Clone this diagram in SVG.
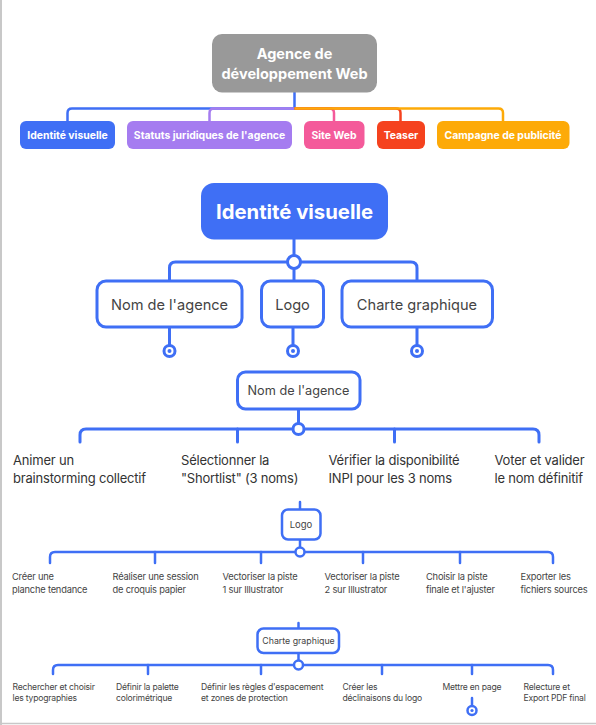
<svg xmlns="http://www.w3.org/2000/svg" width="596" height="725" viewBox="0 0 596 725">
<style>
.t{font-family:Inter,"Liberation Sans",sans-serif}
.b{font-weight:700;fill:#fff;text-anchor:middle}
.c{fill:none;stroke:#3f6ff5;stroke-linecap:round;stroke-linejoin:round}
.w{fill:#fff;stroke:#3f6ff5}
.s3{font-size:13px;letter-spacing:-0.2px;fill:#333}
.s4{font-size:9.3px;letter-spacing:-0.2px;fill:#444}
.s5{font-size:8.6px;letter-spacing:-0.2px;fill:#444}
</style>
<rect width="596" height="725" fill="#fff"/>
<line x1="1" y1="0" x2="1" y2="725" stroke="#c8c8c8" stroke-width="2"/>
<line x1="0" y1="723.5" x2="596" y2="723.5" stroke="#c8c8c8" stroke-width="1.5"/>

<g id="connectors">
  <g fill="none" stroke-width="2.5" stroke-linejoin="round">
    <path d="M294.5,92 V108.5 H72 Q67.5,108.5 67.5,113 V121" stroke="#3f6ff5"/>
    <path d="M294.5,108.5 H214 Q209.5,108.5 209.5,113 V121" stroke="#a57cf0"/>
    <path d="M294.5,108.5 H329.5 Q334,108.5 334,113 V121" stroke="#f45a9a"/>
    <path d="M294.5,108.5 H396 Q400.5,108.5 400.5,113 V121" stroke="#f5421e"/>
    <path d="M294.5,108.5 H498.5 Q503,108.5 503,113 V121" stroke="#fdaa08"/>
  </g>
  <g class="c" stroke-width="3">
    <path d="M294,239 V262"/>
    <path d="M169.5,281 V268 Q169.5,262 175.5,262 H411 Q417,262 417,268 V281"/>
    <path d="M294,262 V281"/>
    <path d="M169.5,327 V346"/>
    <path d="M293,327 V346"/>
    <path d="M417,327 V346"/>
    <path d="M298.5,409 V429"/>
    <path d="M80,442 V435 Q80,429 86,429 H533 Q539,429 539,435 V442"/>
    <path d="M237.5,442 V429"/>
    <path d="M394.5,442 V429"/>
  </g>
  <g class="c" stroke-width="2.5">
    <path d="M300,502 V509"/>
    <path d="M300,539 V552"/>
    <path d="M50,563 V557 Q50,552 55,552 H548 Q553,552 553,557 V563"/>
    <path d="M155,563 V552"/>
    <path d="M261,563 V552"/>
    <path d="M363,563 V552"/>
    <path d="M460,563 V552"/>
    <path d="M298.5,623 V628"/>
    <path d="M298.5,653 V665"/>
    <path d="M53,674 V670 Q53,665 58,665 H548 Q553,665 553,670 V674"/>
    <path d="M148,674 V665"/>
    <path d="M261,674 V665"/>
    <path d="M382,674 V665"/>
    <path d="M472,674 V665"/>
    <path d="M472,698 V706"/>
  </g>
  <g class="w">
    <circle cx="294" cy="262" r="6.5" stroke-width="3"/>
    <circle cx="169.5" cy="351" r="5.5" stroke-width="3"/>
    <circle cx="293" cy="351" r="5.5" stroke-width="3"/>
    <circle cx="417" cy="351" r="5.5" stroke-width="3"/>
    <circle cx="298.5" cy="429" r="5.5" stroke-width="3"/>
    <circle cx="300" cy="552" r="4.5" stroke-width="2.5"/>
    <circle cx="298.5" cy="665" r="4.5" stroke-width="2.5"/>
    <circle cx="472" cy="710.5" r="4.5" stroke-width="2.5"/>
  </g>
  <g fill="#3f6ff5">
    <circle cx="169.5" cy="351" r="2"/>
    <circle cx="293" cy="351" r="2"/>
    <circle cx="417" cy="351" r="2"/>
    <circle cx="472" cy="710.5" r="1.6"/>
  </g>
</g>

<g id="root">
  <rect x="212" y="34" width="165" height="58.5" rx="10" fill="#999"/>
  <text class="t b" x="294.5" y="59" font-size="14.5">Agence de</text>
  <text class="t b" x="294.5" y="79" font-size="14.5">développement Web</text>
</g>
<g id="cat-identite">
  <rect x="20" y="121" width="95" height="28" rx="6" fill="#3f6ff5"/>
  <text class="t b" x="67.5" y="139" font-size="10.4">Identité visuelle</text>
</g>
<g id="cat-statuts">
  <rect x="127" y="121" width="165" height="28" rx="6" fill="#a57cf0"/>
  <text class="t b" x="209.5" y="139" font-size="10.4">Statuts juridiques de l'agence</text>
</g>
<g id="cat-site">
  <rect x="304" y="121" width="60.5" height="28" rx="6" fill="#f45a9a"/>
  <text class="t b" x="334" y="139" font-size="10.4">Site Web</text>
</g>
<g id="cat-teaser">
  <rect x="377" y="121" width="48" height="28" rx="6" fill="#f5421e"/>
  <text class="t b" x="401" y="139" font-size="10.4">Teaser</text>
</g>
<g id="cat-campagne">
  <rect x="437" y="121" width="132.5" height="28" rx="6" fill="#fdaa08"/>
  <text class="t b" x="503" y="139" font-size="10.4">Campagne de publicité</text>
</g>

<g id="identite-main">
  <rect x="201" y="183" width="187" height="56.5" rx="13" fill="#3f6ff5"/>
  <text class="t b" x="294.5" y="219" font-size="20.3">Identité visuelle</text>
</g>
<g id="n-nom">
  <rect x="97" y="281" width="145" height="46" rx="9" class="w" stroke-width="3"/>
  <text class="t" x="169.5" y="309.5" font-size="14.6" fill="#444" text-anchor="middle">Nom de l'agence</text>
</g>
<g id="n-logo">
  <rect x="261.5" y="281" width="62" height="46" rx="9" class="w" stroke-width="3"/>
  <text class="t" x="292.5" y="309.5" font-size="14.6" fill="#444" text-anchor="middle">Logo</text>
</g>
<g id="n-charte">
  <rect x="342" y="281" width="150.5" height="46" rx="9" class="w" stroke-width="3"/>
  <text class="t" x="417" y="309.5" font-size="14.6" fill="#444" text-anchor="middle">Charte graphique</text>
</g>

<g id="nom-detail">
  <rect x="237.5" y="372" width="122.5" height="37" rx="8" class="w" stroke-width="3"/>
  <text class="t" x="298.5" y="395" font-size="12.7" fill="#444" text-anchor="middle">Nom de l'agence</text>
</g>
<g id="nom-1"><text class="t s3" x="13" y="465">Animer un</text><text class="t s3" x="13" y="482.5">brainstorming collectif</text></g>
<g id="nom-2"><text class="t s3" x="181" y="465">Sélectionner la</text><text class="t s3" x="181" y="482.5">"Shortlist" (3 noms)</text></g>
<g id="nom-3"><text class="t s3" x="328.5" y="465">Vérifier la disponibilité</text><text class="t s3" x="328.5" y="482.5">INPI pour les 3 noms</text></g>
<g id="nom-4"><text class="t s3" x="494.5" y="465">Voter et valider</text><text class="t s3" x="494.5" y="482.5">le nom définitif</text></g>

<g id="logo-detail">
  <rect x="282" y="509.5" width="38.5" height="30" rx="6" class="w" stroke-width="2.5"/>
  <text class="t" x="301" y="528" font-size="9.5" fill="#444" text-anchor="middle">Logo</text>
</g>
<g id="logo-1"><text class="t s4" x="12" y="580">Créer une</text><text class="t s4" x="12" y="593">planche tendance</text></g>
<g id="logo-2"><text class="t s4" x="112.5" y="580">Réaliser une session</text><text class="t s4" x="112.5" y="593">de croquis papier</text></g>
<g id="logo-3"><text class="t s4" x="222.5" y="580">Vectoriser la piste</text><text class="t s4" x="222.5" y="593">1 sur Illustrator</text></g>
<g id="logo-4"><text class="t s4" x="324.5" y="580">Vectoriser la piste</text><text class="t s4" x="324.5" y="593">2 sur Illustrator</text></g>
<g id="logo-5"><text class="t s4" x="426" y="580">Choisir la piste</text><text class="t s4" x="426" y="593">finale et l'ajuster</text></g>
<g id="logo-6"><text class="t s4" x="520.5" y="580">Exporter les</text><text class="t s4" x="520.5" y="593">fichiers sources</text></g>

<g id="charte-detail">
  <rect x="257.5" y="628.5" width="81.5" height="24.5" rx="6" class="w" stroke-width="2.5"/>
  <text class="t" x="298.5" y="644" font-size="8.8" fill="#444" text-anchor="middle">Charte graphique</text>
</g>
<g id="charte-1"><text class="t s5" x="12.5" y="690">Rechercher et choisir</text><text class="t s5" x="12.5" y="701">les typographies</text></g>
<g id="charte-2"><text class="t s5" x="116" y="690">Définir la palette</text><text class="t s5" x="116" y="701">colorimétrique</text></g>
<g id="charte-3"><text class="t s5" x="201" y="690">Définir les règles d'espacement</text><text class="t s5" x="201" y="701">et zones de protection</text></g>
<g id="charte-4"><text class="t s5" x="342.5" y="690">Créer les</text><text class="t s5" x="342.5" y="701">déclinaisons du logo</text></g>
<g id="charte-5"><text class="t s5" x="442.5" y="690">Mettre en page</text></g>
<g id="charte-6"><text class="t s5" x="523.5" y="690">Relecture et</text><text class="t s5" x="523.5" y="701">Export PDF final</text></g>
</svg>
